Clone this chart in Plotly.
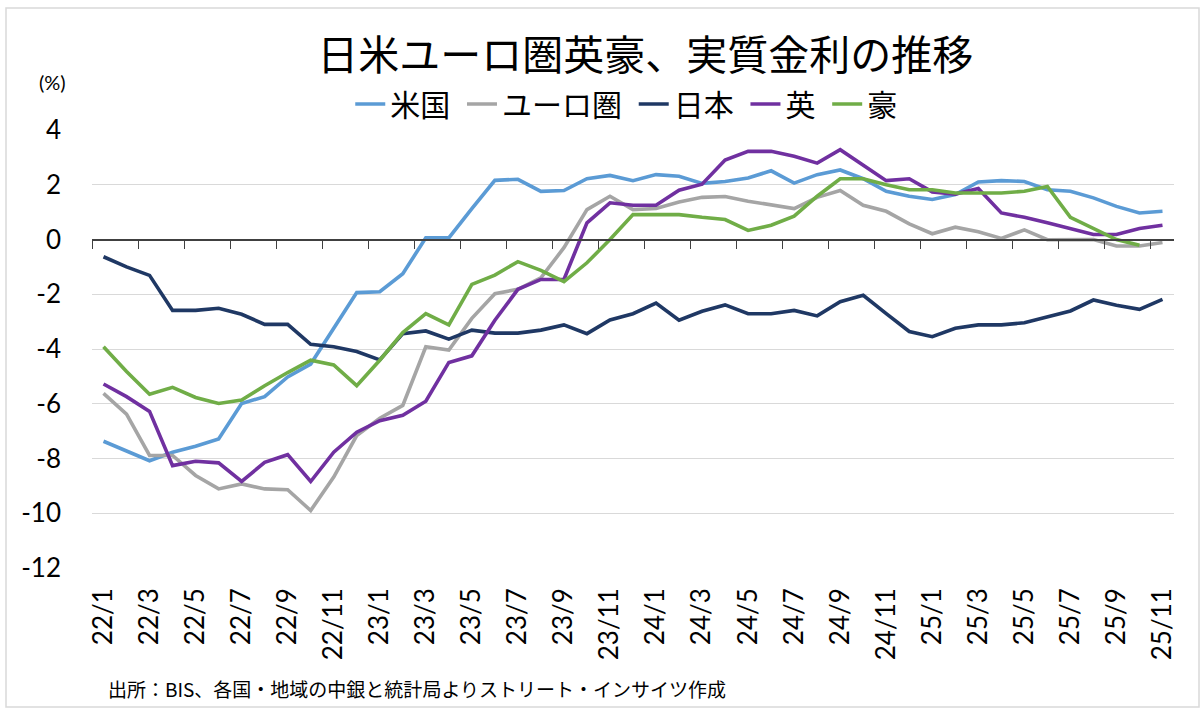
import plotly.graph_objects as go

months = [f"{y}/{m}" for y in (22, 23, 24, 25) for m in range(1, 13)][:47]

us = [-7.37, -7.74, -8.08, -7.77, -7.55, -7.29, -5.99, -5.74, -5.02, -4.55, -3.22, -1.94, -1.91, -1.25,
      0.06, 0.06, 1.13, 2.16, 2.2, 1.76, 1.79, 2.22, 2.34, 2.15, 2.37, 2.31,
      2.05, 2.12, 2.25, 2.51, 2.06, 2.37, 2.54, 2.22, 1.76, 1.58, 1.46, 1.64, 2.1, 2.15, 2.12, 1.82, 1.76, 1.52, 1.21, 0.97, 1.03]
euro = [-5.62, -6.38, -7.89, -7.89, -8.62, -9.11, -8.93, -9.11, -9.14, -9.9, -8.68, -7.16, -6.53, -6.06,
        -3.92, -4.04, -2.88, -1.98, -1.82, -1.4, -0.3, 1.09, 1.58, 1.09, 1.13, 1.37, 1.54,
        1.57, 1.4, 1.25, 1.13, 1.54, 1.79, 1.25, 1.03, 0.57, 0.21, 0.45, 0.28, 0.04, 0.35, -0.01, 0, 0, -0.24, -0.24, -0.11]
japan = [-0.63, -1.0, -1.31, -2.59, -2.59, -2.51, -2.73, -3.1, -3.1, -3.83, -3.92, -4.09, -4.4,
         -3.44, -3.34, -3.64, -3.31, -3.42, -3.42, -3.31, -3.12, -3.44, -2.94, -2.71, -2.32, -2.95,
         -2.62, -2.39, -2.71, -2.71, -2.59, -2.79, -2.27, -2.04, -2.71, -3.36, -3.55, -3.24, -3.12, -3.12, -3.04, -2.83, -2.61, -2.21, -2.4, -2.55, -2.19]
uk = [-5.28, -5.74, -6.28, -8.26, -8.1, -8.16, -8.84, -8.14, -7.86, -8.84, -7.77, -7.04, -6.62, -6.42,
      -5.91, -4.49, -4.25, -2.95, -1.82, -1.46, -1.46, 0.61, 1.34, 1.25, 1.25, 1.8, 2.02,
      2.9, 3.22, 3.22, 3.04, 2.79, 3.28, 2.71, 2.15, 2.22, 1.74, 1.66, 1.86, 0.97, 0.81, 0.61, 0.4, 0.18, 0.18, 0.4, 0.52]
aus = [-3.92, -4.82, -5.65, -5.4, -5.77, -5.99, -5.86, -5.34, -4.86, -4.41, -4.58, -5.34, -4.41, -3.4,
       -2.71, -3.12, -1.64, -1.3, -0.81, -1.13, -1.54, -0.85, 0, 0.91, 0.91, 0.91, 0.81,
       0.73, 0.33, 0.52, 0.85, 1.58, 2.22, 2.22, 2.0, 1.82, 1.82, 1.7, 1.7, 1.7, 1.76, 1.94, 0.81, 0.4, 0, -0.21, None]

series_names = ["米国", "ユーロ圏", "日本", "英", "豪"]
series_values = [us, euro, japan, uk, aus]
colors = ["#5b9bd5", "#a5a5a5", "#1f3864", "#7030a0", "#70ad47"]

y_ticks = list(range(-12, 5, 2))
y_ticktext = [str(v) for v in y_ticks]
x_idx = list(range(len(months)))
label_idx = x_idx[::2]
label_text = [months[i] for i in label_idx]
boundary_ticks = [i - 0.5 for i in label_idx]

CJK = "Noto Sans CJK JP"
NUM = "Lato"

fig = go.Figure()
for name, vals, col in zip(series_names, series_values, colors):
    fig.add_trace(go.Scatter(x=x_idx, y=vals, name=name + "\u00a0", mode="lines",
                             line=dict(color=col, width=3.6), connectgaps=False))

fig.update_layout(
    width=1204, height=716,
    margin=dict(l=92, r=30, t=130, b=148, autoexpand=False),
    paper_bgcolor="white", plot_bgcolor="white",
    showlegend=True,
    legend=dict(orientation="h", x=0.497, xanchor="center", y=1.0, yanchor="bottom",
                font=dict(family=CJK, size=30, color="#000000"),
                itemwidth=30, tracegroupgap=0),
    title=dict(text="日米ユーロ圏英豪、実質金利の推移", x=0.536, xanchor="center",
               y=0.922, yanchor="middle", font=dict(family=CJK, size=41, color="#000000")),
    xaxis=dict(range=[-0.5, 46.5], tickmode="array", tickvals=label_idx, ticktext=label_text,
               tickangle=-90, ticks="", showgrid=False, zeroline=False, showline=False,
               automargin=False,
               tickfont=dict(family=NUM, size=26, color="#000000"), ticklabelstandoff=14),
    xaxis2=dict(range=[-0.5, 46.5], overlaying="x", anchor="free", position=0.75,
                tickmode="array", tickvals=boundary_ticks, ticks="outside", ticklen=9,
                tickwidth=1.3, tickcolor="#404040", showticklabels=False, showgrid=False,
                zeroline=False, showline=True, linecolor="#404040", linewidth=1.5,
                automargin=False),
    yaxis=dict(range=[-12, 4], tickmode="array", tickvals=y_ticks, ticktext=y_ticktext,
               showgrid=True, gridcolor="#d9d9d9", gridwidth=1.3, zeroline=False,
               showline=False, ticks="", automargin=False,
               tickfont=dict(family=NUM, size=26, color="#000000"), ticklabelstandoff=30),
)

# invisible helper trace so the crossing category axis at 0 is drawn
fig.add_trace(go.Scatter(x=[None], y=[None], xaxis="x2", showlegend=False, hoverinfo="skip"))

fig.add_annotation(text="(%)", xref="paper", yref="paper", x=(52 - 92) / 1082, y=(568 - 82) / 438,
                   xanchor="center", yanchor="middle", showarrow=False,
                   font=dict(family=NUM, size=20, color="#000000"))
fig.add_annotation(text="出所：BIS、各国・地域の中銀と統計局よりストリート・インサイツ作成",
                   xref="paper", yref="paper", x=(106 - 92) / 1082, y=-(688 - 568) / 438,
                   xanchor="left", yanchor="middle", showarrow=False,
                   font=dict(family=CJK, size=19, color="#000000"))
fig.add_shape(type="rect", xref="paper", yref="paper",
              x0=(6 - 92) / 1082, x1=(1199 - 92) / 1082, y0=-(707 - 568) / 438, y1=(568 - 8) / 438,
              line=dict(color="#d9d9d9", width=1.5), fillcolor="rgba(0,0,0,0)", layer="below")

fig.write_html("out.html", config={"displayModeBar": False},
               post_script="document.body.style.margin='0px';")
